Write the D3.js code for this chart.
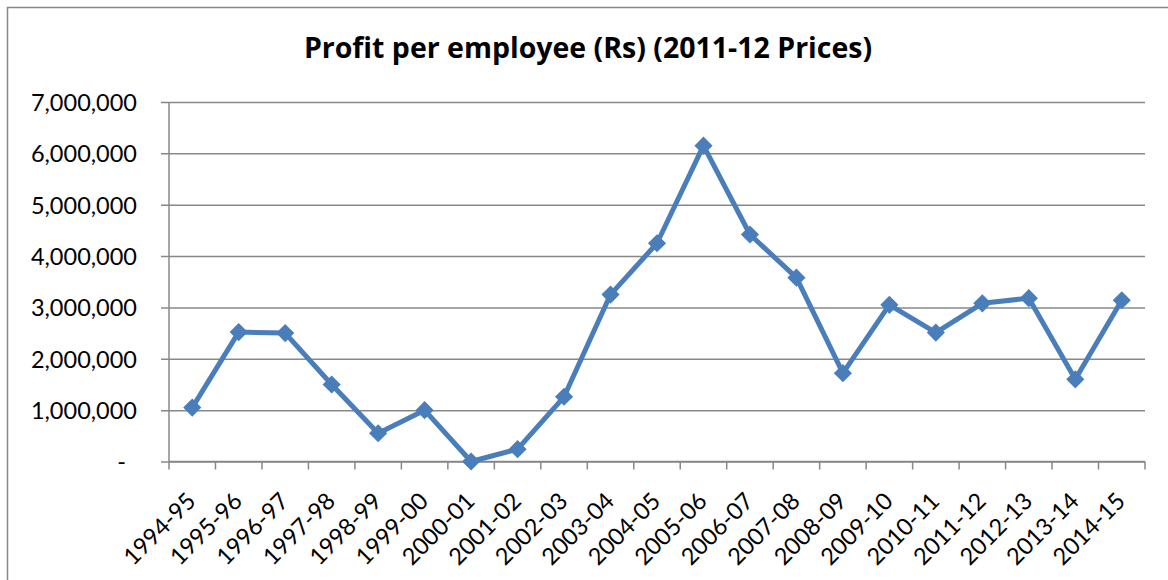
<!DOCTYPE html>
<html>
<head>
<meta charset="utf-8">
<script src="https://cdn.jsdelivr.net/npm/d3@7"></script>
<style>
  html, body { margin: 0; padding: 0; background: #fff; }
  svg { display: block; font-family: Lato, "Open Sans", sans-serif; }
</style>
</head>
<body>
<svg id="chart" width="1168" height="580"></svg>
<script>
// Fiscal years on the category axis
const years = ["1994-95","1995-96","1996-97","1997-98","1998-99","1999-00","2000-01",
  "2001-02","2002-03","2003-04","2004-05","2005-06","2006-07","2007-08","2008-09",
  "2009-10","2010-11","2011-12","2012-13","2013-14","2014-15"];

// Profit per employee, Rs at 2011-12 prices
const profit = [1050000, 2520000, 2500000, 1500000, 550000, 1000000, 0,
  240000, 1260000, 3250000, 4250000, 6150000, 4420000, 3580000, 1720000,
  3050000, 2510000, 3080000, 3180000, 1600000, 3140000];

// Value axis ticks
const yTicks = [0, 1000000, 2000000, 3000000, 4000000, 5000000, 6000000, 7000000];

const title = "Profit per employee (Rs) (2011-12 Prices)";

const svg = d3.select("#chart");
const plot = { left: 169, right: 1145, top: 102, bottom: 461.5 };
const grey = "#888888";
const blue = "#4a7ebb";

// Outer chart frame
svg.append("rect")
  .attr("x", 7.5).attr("y", 7.5)
  .attr("width", 1200).attr("height", 620)
  .attr("fill", "#fff").attr("stroke", grey).attr("stroke-width", 1.5);

svg.append("text")
  .attr("x", 588).attr("y", 58)
  .attr("text-anchor", "middle")
  .attr("font-family", "'Open Sans', sans-serif")
  .attr("font-size", 28.5).attr("font-weight", "bold").attr("fill", "#000")
  .text(title);

const x = d3.scaleBand().domain(years).range([plot.left, plot.right]);
const y = d3.scaleLinear().domain([0, 7000000]).range([plot.bottom, plot.top]);

// Horizontal gridlines and value axis
const yAxis = d3.axisLeft(y)
  .tickValues(yTicks)
  .tickSize(-(plot.right - plot.left))
  .tickPadding(32)
  .tickFormat(d => d === 0 ? "-" : d3.format(",")(d));

const gy = svg.append("g")
  .attr("transform", `translate(${plot.left},0)`)
  .call(yAxis);
gy.select(".domain").remove();
gy.selectAll(".tick line")
  .attr("x1", -8)
  .attr("stroke", grey).attr("stroke-width", 1.5);
gy.selectAll(".tick text")
  .attr("font-family", "Lato, sans-serif")
  .attr("font-size", 23.5).attr("fill", "#000")
  .attr("dy", "0.36em")
  .attr("dx", d => d === 0 ? -11 : 0);

// Vertical axis line
svg.append("line")
  .attr("x1", plot.left).attr("x2", plot.left)
  .attr("y1", plot.top).attr("y2", plot.bottom)
  .attr("stroke", grey).attr("stroke-width", 1.5);

// Category axis with tick marks between categories
const gx = svg.append("g")
  .attr("transform", `translate(0,${plot.bottom})`);
gx.append("line")
  .attr("x1", plot.left).attr("x2", plot.right)
  .attr("stroke", grey).attr("stroke-width", 1.5);
gx.selectAll("line.tk")
  .data(years.concat(["end"]))
  .join("line")
  .attr("class", "tk")
  .attr("x1", (d, i) => plot.left + i * x.step())
  .attr("x2", (d, i) => plot.left + i * x.step())
  .attr("y1", 0).attr("y2", 8)
  .attr("stroke", grey).attr("stroke-width", 1.5);
gx.selectAll("text")
  .data(years)
  .join("text")
  .attr("transform", d => `translate(${x(d) + x.bandwidth() / 2 + 5},${41}) rotate(-45)`)
  .attr("text-anchor", "end")
  .attr("font-size", 23.5).attr("fill", "#000")
  .text(d => d);

// Series line
const line = d3.line()
  .x((d, i) => x(years[i]) + x.bandwidth() / 2)
  .y(d => y(d));

svg.append("path")
  .datum(profit)
  .attr("d", line)
  .attr("fill", "none")
  .attr("stroke", blue).attr("stroke-width", 5)
  .attr("stroke-linejoin", "round");

// Diamond markers
const diamond = d3.symbol().type(d3.symbolDiamond2).size(210);
svg.selectAll("path.marker")
  .data(profit)
  .join("path")
  .attr("class", "marker")
  .attr("d", diamond)
  .attr("transform", (d, i) => `translate(${x(years[i]) + x.bandwidth() / 2},${y(d)})`)
  .attr("fill", blue);
</script>
</body>
</html>
